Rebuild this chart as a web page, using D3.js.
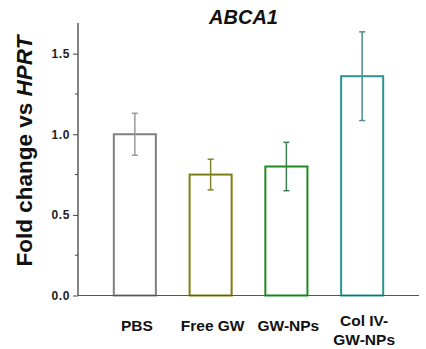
<!DOCTYPE html>
<html>
<head>
<meta charset="utf-8">
<script src="https://cdn.jsdelivr.net/npm/d3@7/dist/d3.min.js"></script>
<style>
  html, body { margin: 0; padding: 0; background: #fff; }
  svg { display: block; font-family: Arial, "Liberation Sans", sans-serif; }
</style>
</head>
<body>
<svg id="chart" width="426" height="349"></svg>
<script>
// Fold change of ABCA1 expression relative to HPRT
const categories = ["PBS", "Free GW", "GW-NPs", "Col IV-\nGW-NPs"];
const means = [1.00, 0.75, 0.80, 1.36];
const errors = [0.13, 0.095, 0.15, 0.275];
const barColors = ["#808080", "#7d7d12", "#1f8a1f", "#2a9595"];
const errColors = ["#9a9a9a", "#84842a", "#3f7f4f", "#4f8c8c"];
const majorTicks = [0.0, 0.5, 1.0, 1.5];
const minorTicks = [0.25, 0.75, 1.25];

const svg = d3.select("#chart");
const x0 = 78, xEnd = 419, yTop = 23, yBase = 295.5;

const y = d3.scaleLinear().domain([0, 1.69]).range([yBase, yTop]);
const x = d3.scaleBand().domain(categories).range([97, 400]).paddingInner(0.445).paddingOuter(0.222);

// bars
svg.append("g").selectAll("rect")
  .data(categories)
  .join("rect")
  .attr("x", d => x(d))
  .attr("y", (d, i) => y(means[i]))
  .attr("width", x.bandwidth())
  .attr("height", (d, i) => yBase - y(means[i]))
  .attr("fill", "none")
  .attr("stroke", (d, i) => barColors[i])
  .attr("stroke-width", 2);

// error bars
const eg = svg.append("g");
categories.forEach((c, i) => {
  const cx = x(c) + x.bandwidth() / 2;
  const hi = y(means[i] + errors[i]), lo = y(means[i] - errors[i]);
  const col = errColors[i];
  eg.append("line").attr("x1", cx).attr("x2", cx).attr("y1", hi).attr("y2", lo)
    .attr("stroke", col).attr("stroke-width", 1.5);
  [hi, lo].forEach(v => eg.append("line")
    .attr("x1", cx - 3).attr("x2", cx + 3).attr("y1", v).attr("y2", v)
    .attr("stroke", col).attr("stroke-width", 1.5));
});

// y axis
const yAxis = d3.axisLeft(y).tickValues(majorTicks).tickFormat(d3.format(".1f")).tickSize(5).tickSizeOuter(0);
const ga = svg.append("g").attr("transform", `translate(${x0},0)`).call(yAxis);
ga.select(".domain").attr("stroke", "#333").attr("d", `M0,${yTop}V${yBase}`).attr("stroke-width", 1.2);
ga.selectAll(".tick line").attr("stroke", "#444");
ga.selectAll(".tick text").attr("x", -8).attr("font-size", 12).attr("font-weight", "bold")
  .attr("letter-spacing", 0.6).attr("fill", "#222").attr("font-family", "Arial, 'Liberation Sans', sans-serif");
svg.append("g").selectAll("line").data(minorTicks).join("line")
  .attr("x1", x0 - 3).attr("x2", x0).attr("y1", d => y(d)).attr("y2", d => y(d))
  .attr("stroke", "#444");

// x axis line
svg.append("line").attr("x1", x0).attr("x2", xEnd).attr("y1", yBase).attr("y2", yBase)
  .attr("stroke", "#555").attr("stroke-width", 1.2);

// x labels
svg.append("g").selectAll("text").data(categories).join("text")
  .attr("text-anchor", "middle")
  .attr("font-size", 15.5).attr("font-weight", "bold").attr("fill", "#111")
  .attr("transform", d => `translate(${x(d) + x.bandwidth() / 2 + 2},0)`)
  .each(function (d) {
    const lines = d.split("\n");
    const t = d3.select(this);
    const start = lines.length > 1 ? 326 : 330.5;
    lines.forEach((l, k) => t.append("tspan").attr("x", 0).attr("y", start + k * 19).text(l));
  });

// title
svg.append("text").attr("x", 243.5).attr("y", 24).attr("text-anchor", "middle")
  .attr("font-size", 20).attr("font-weight", "bold").attr("font-style", "italic").attr("fill", "#111")
  .text("ABCA1");

// y label
const yl = svg.append("text").attr("transform", "translate(32,151) rotate(-90)")
  .attr("text-anchor", "middle").attr("font-size", 22.5).attr("font-weight", "bold").attr("fill", "#111");
yl.append("tspan").text("Fold change vs ");
yl.append("tspan").attr("font-style", "italic").text("HPRT");
</script>
</body>
</html>
